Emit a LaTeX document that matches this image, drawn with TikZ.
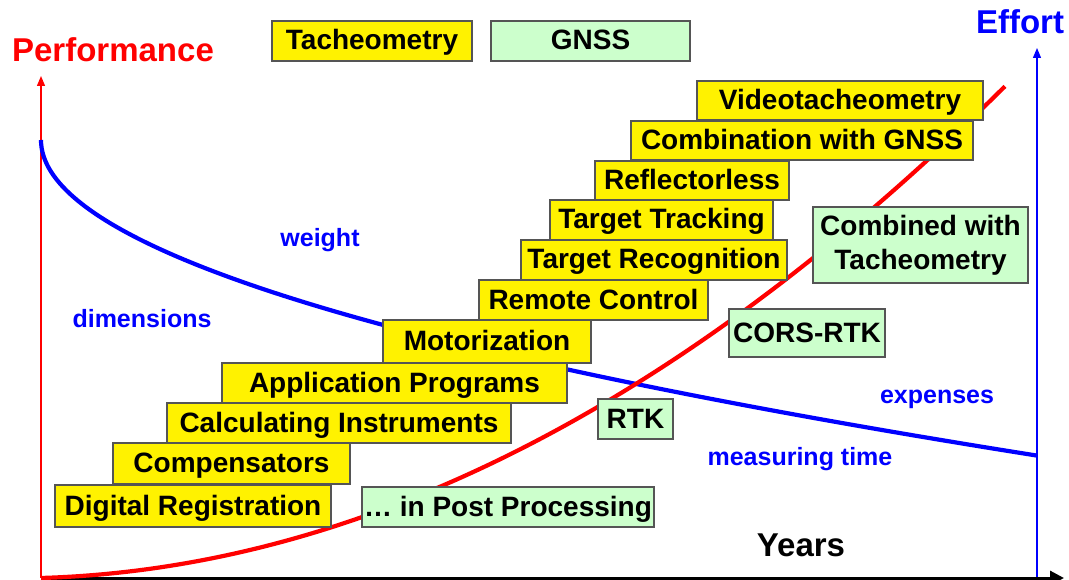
\documentclass[tikz,border=0pt]{standalone}
\usepackage{fontspec}
\setmainfont{Liberation Sans}
\usetikzlibrary{arrows.meta}
\definecolor{boxgreen}{RGB}{204,255,204}
\definecolor{boxedge}{RGB}{85,85,85}
\tikzset{
  stepbox/.style={draw=boxedge, line width=1.2pt, inner sep=0pt, align=center,
    text height=21pt, text depth=3pt, font=\fontsize{28}{34}\selectfont\bfseries},
  tacbox/.style={stepbox, fill=yellow},
  gnssbox/.style={stepbox, fill=boxgreen},
  trend/.style={text=blue, font=\fontsize{25}{30}\selectfont\bfseries},
  axistitle/.style={font=\fontsize{33}{38}\selectfont\bfseries},
}
\begin{document}
\begin{tikzpicture}[x=1pt, y=-1pt]
  \useasboundingbox (0,0) rectangle (1069,580);
  % axes
  \coordinate (origin) at (41,578);
  \coordinate (perftop) at (41,76);
  \coordinate (effbot) at (1037,578);
  \coordinate (efftop) at (1037,48);
  \coordinate (yearend) at (1064,578);
  \draw[red, line width=1.3pt, -{Triangle[length=10pt,width=8pt]}] (origin) -- (perftop);
  \draw[blue, line width=1.3pt, -{Triangle[length=10pt,width=8pt]}] (effbot) -- (efftop);
  \draw[black, line width=3pt, -{Triangle[length=14pt,width=14pt]}] (origin) -- (yearend);
  \node[axistitle, text=red] (perf) at (113,50) {Performance};
  \node[axistitle, text=blue] (effort) at (1020,22) {Effort};
  \node[axistitle] (years) at (801,545) {Years};
  % trends
  \draw[blue, line width=4.2pt] plot[domain=0:31.56, samples=80, smooth]
    ({41+\x*\x},{140+10*\x});
  \draw[red, line width=4.2pt] plot[domain=0:9.64, samples=80, smooth]
    ({41+100*\x},{578-4.98*\x*\x-3*\x});
  \node[trend] (weight) at (320,240) {weight};
  \node[trend] (dims) at (142,319) {dimensions};
  \node[trend] (expenses) at (937,399) {expenses};
  \node[trend] (meastime) at (800,459) {measuring time};
  % legend
  \node[tacbox, minimum width=200pt, minimum height=40pt] (tachy) at (372,41) {Tacheometry};
  \node[gnssbox, minimum width=199pt, minimum height=40pt] (gnss) at (590.5,41) {GNSS};
  % tacheometry steps
  \node[tacbox, minimum width=276pt, minimum height=42pt] (digreg) at (193,506) {Digital Registration};
  \node[tacbox, minimum width=237pt, minimum height=41pt] (comp) at (231.5,463.5) {Compensators};
  \node[tacbox, minimum width=344pt, minimum height=40pt] (calc) at (339,423) {Calculating Instruments};
  \node[tacbox, minimum width=345pt, minimum height=40pt] (apps) at (394.5,383) {Application Programs};
  \node[tacbox, minimum width=208pt, minimum height=43pt] (motor) at (487,341.5) {Motorization};
  \node[tacbox, minimum width=229pt, minimum height=40pt] (remote) at (593.5,300) {Remote Control};
  \node[tacbox, minimum width=266pt, minimum height=40pt] (recog) at (654,260) {Target Recognition};
  \node[tacbox, minimum width=223pt, minimum height=40pt] (track) at (661.5,220) {Target Tracking};
  \node[tacbox, minimum width=194pt, minimum height=39pt] (reflless) at (692,180.5) {Reflectorless};
  \node[tacbox, minimum width=342pt, minimum height=39pt] (combgnss) at (802,140.5) {Combination with GNSS};
  \node[tacbox, minimum width=286pt, minimum height=39pt] (video) at (840,100.5) {Videotacheometry};
  % gnss steps
  \node[gnssbox, minimum width=292pt, minimum height=40pt] (postproc) at (508,507) {… in Post Processing};
  \node[gnssbox, minimum width=75pt, minimum height=40pt] (rtk) at (635.5,419) {RTK};
  \node[gnssbox, minimum width=156pt, minimum height=48pt] (cors) at (807,333) {CORS-RTK};
  \node[gnssbox, text height={}, text depth={}, minimum width=215pt, minimum height=76pt]
    (combtach) at (920.5,245) {Combined with\\Tacheometry};
\end{tikzpicture}
\end{document}
